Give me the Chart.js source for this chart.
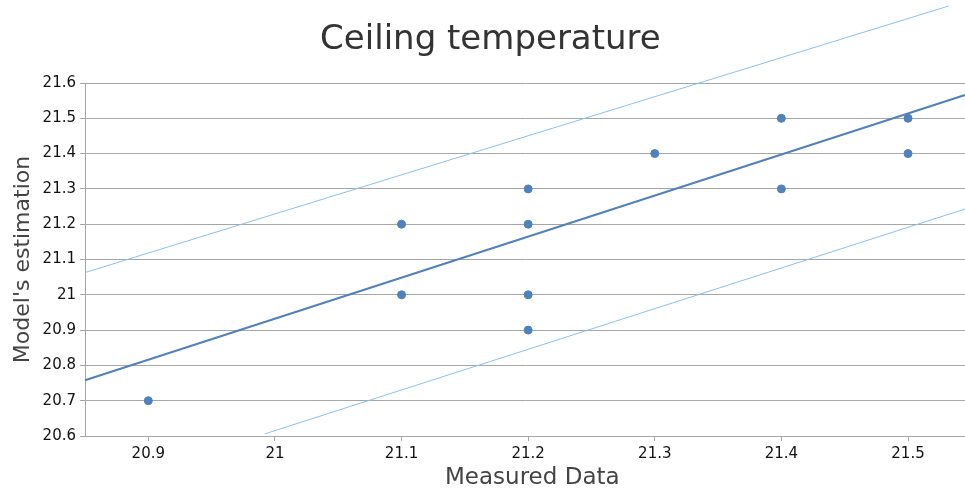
<!DOCTYPE html>
<html><head><meta charset="utf-8">
<script src="https://cdn.jsdelivr.net/npm/chart.js@4/dist/chart.umd.min.js"></script>
<style>html,body{margin:0;padding:0;background:#fff;overflow:hidden;width:965px;height:492px}#wrap{width:970px;height:492px}</style>
</head><body><div id="wrap"><canvas id="c"></canvas></div>
<script>
const titleText = "Ceiling temperature";
const xTitle = "Measured Data";
const yTitle = "Model's estimation";
const measured = [20.9, 21.1, 21.1, 21.2, 21.2, 21.2, 21.2, 21.3, 21.4, 21.4, 21.5, 21.5];
const estimated = [20.7, 21.2, 21.0, 21.3, 21.2, 21.0, 20.9, 21.4, 21.5, 21.3, 21.5, 21.4];
const fitX = [20.85, 21.545];
const fitY = [20.758, 21.566];
const upperX = [20.85, 21.532];
const upperY = [21.063, 21.818];
const lowerX = [20.992, 21.545];
const lowerY = [20.606, 21.243];
const xTicks = [20.9, 21.0, 21.1, 21.2, 21.3, 21.4, 21.5];
const yTicks = [20.6, 20.7, 20.8, 20.9, 21.0, 21.1, 21.2, 21.3, 21.4, 21.5, 21.6];

const pts = (xs, ys) => xs.map((x, i) => ({x, y: ys[i]}));
const FONT = "'DejaVu Sans', sans-serif";
const grid = '#a6a6a6';

new Chart(document.getElementById('c'), {
  type: 'scatter',
  data: { datasets: [
    { data: pts(upperX, upperY), showLine: true, borderColor: '#86c2ef', borderWidth: 1, pointRadius: 0, clip: false, order: 3 },
    { data: pts(lowerX, lowerY), showLine: true, borderColor: '#86c2ef', borderWidth: 1, pointRadius: 0, clip: false, order: 3 },
    { data: pts(fitX, fitY), showLine: true, borderColor: '#4f81bc', borderWidth: 2, pointRadius: 0, clip: false, order: 2 },
    { data: pts(measured, estimated), backgroundColor: '#4f81bc', borderColor: '#4f81bc', pointRadius: 4, pointHoverRadius: 4, order: 1 }
  ]},
  options: {
    responsive: true, maintainAspectRatio: false, animation: false,
    layout: { padding: 0 },
    plugins: {
      legend: { display: false }, tooltip: { enabled: false },
      title: { display: true, text: ' ' + titleText, color: '#333333', font: { family: FONT, size: 34, weight: 'normal', lineHeight: 1.2 }, padding: { top: 20, bottom: 22.2 } }
    },
    scales: {
      x: {
        type: 'linear', min: 20.85, max: 21.545,
        afterBuildTicks: s => { s.ticks = xTicks.map(v => ({value: v})); },
        afterFit: s => { s.height = 56; },
        grid: { display: true, drawOnChartArea: false, color: grid, tickLength: 5 },
        border: { color: grid, width: 1 },
        ticks: { color: '#111', font: { family: FONT, size: 15 }, padding: 4, maxRotation: 0, callback: v => String(+v.toFixed(2)) },
        title: { display: true, text: '  ' + xTitle, color: '#444', font: { family: FONT, size: 23 }, padding: { top: 0, bottom: 0 } }
      },
      y: {
        type: 'linear', min: 20.6, max: 21.6,
        afterBuildTicks: s => { s.ticks = yTicks.map(v => ({value: v})); },
        afterFit: s => { s.width = 85; },
        grid: { color: grid, tickLength: 5 },
        border: { color: grid, width: 1 },
        ticks: { color: '#111', font: { family: FONT, size: 15 }, padding: 4, callback: v => String(+v.toFixed(2)) },
        title: { display: true, text: yTitle, color: '#444', font: { family: FONT, size: 22 }, padding: { top: 10, bottom: 10 } }
      }
    }
  }
});
</script></body></html>
